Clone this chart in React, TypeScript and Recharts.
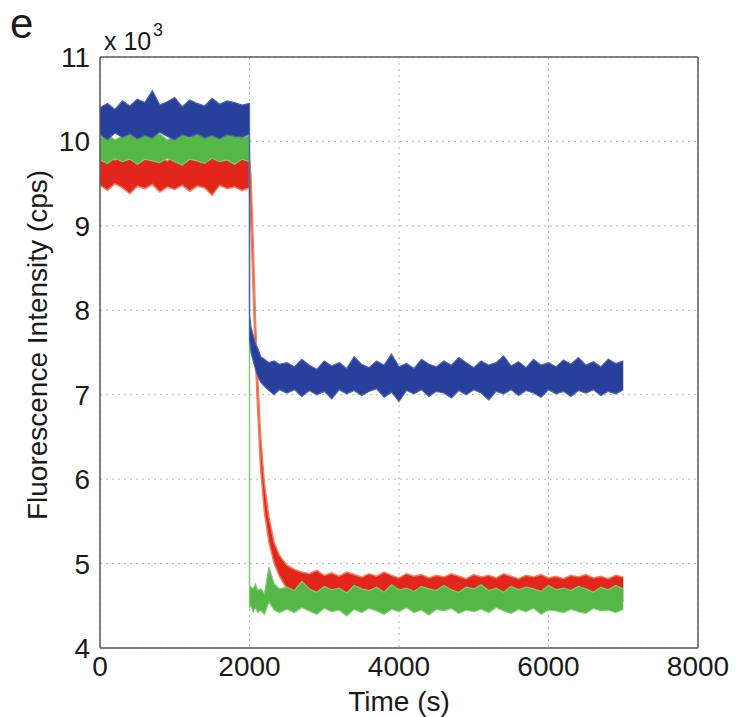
import { ComposedChart, Area, XAxis, YAxis, CartesianGrid, ReferenceLine, Label } from 'recharts';

// time grid (s): baseline, the step at 2000 s (listed twice), decay, plateau
const timeS = [
  0, 100, 200, 300, 400, 500, 600, 700, 800, 900,
  1000, 1100, 1200, 1300, 1400, 1500, 1600, 1700, 1800, 1900,
  2000,
  2000, 2020, 2050, 2080, 2110, 2150, 2200, 2260, 2330, 2400,
  2500, 2600, 2700, 2800, 2900, 3000, 3100, 3200, 3300, 3400,
  3500, 3600, 3700, 3800, 3900, 4000, 4100, 4200, 4300, 4400,
  4500, 4600, 4700, 4800, 4900, 5000, 5100, 5200, 5300, 5400,
  5500, 5600, 5700, 5800, 5900, 6000, 6100, 6200, 6300, 6400,
  6500, 6600, 6700, 6800, 6900, 7000,
];

// noise envelope of each trace, cps (upper / lower edge)
const blueHigh = [
  10400, 10450, 10380, 10480, 10420, 10500, 10460, 10600, 10430, 10470,
  10520, 10410, 10490, 10450, 10420, 10510, 10440, 10480, 10460, 10430,
  10450,
  7950, 7800, 7700, 7600, 7550, 7450, 7420, 7380, 7400, 7360,
  7380, 7330, 7420, 7350, 7300, 7400, 7340, 7380, 7310, 7450,
  7360, 7320, 7400, 7350, 7480, 7330, 7370, 7310, 7420, 7360,
  7330, 7400, 7350, 7440, 7380, 7320, 7400, 7350, 7380, 7460,
  7340, 7390, 7320, 7420, 7350, 7380, 7330, 7410, 7360, 7440,
  7350, 7390, 7330, 7420, 7370, 7400,
];
const blueLow = [
  10080, 10020, 10100, 10050, 10090, 10030, 10070, 10040, 10110, 10060,
  10020, 10080, 10050, 10090, 10040, 10070, 10030, 10080, 10060, 10050,
  10090,
  7650, 7500, 7400, 7300, 7220, 7150, 7100, 7050, 7000, 7060,
  7020, 7060, 6980, 7050, 7000, 7040, 6950, 7060, 7010, 7050,
  6990, 7040, 7070, 6970, 7030, 6920, 7050, 7010, 7060, 6980,
  7040, 7020, 6960, 7050, 7000, 7060, 7020, 6940, 7040, 7010,
  7060, 6990, 7050, 7020, 6970, 7060, 7010, 7040, 6980, 7050,
  7020, 7060, 6990, 7040, 7010, 7060,
];

const greenHigh = [
  10040, 10080, 10020, 10060, 10100, 10030, 10070, 10050, 10090, 10020,
  10060, 10080, 10040, 10110, 10050, 10070, 10030, 10080, 10060, 10050,
  10070,
  4750, 4720, 4700, 4760, 4680, 4700, 4640, 4960, 4760, 4700,
  4720, 4680, 4790, 4700, 4660, 4730, 4690, 4710, 4650, 4740,
  4700, 4680, 4720, 4660, 4750, 4690, 4710, 4670, 4730, 4700,
  4680, 4740, 4690, 4660, 4720, 4700, 4750, 4680, 4710, 4660,
  4730, 4690, 4720, 4700, 4670, 4740, 4690, 4710, 4680, 4730,
  4700, 4660, 4720, 4690, 4740, 4700,
];
const greenLow = [
  9780, 9740, 9800, 9760, 9790, 9730, 9790, 9770, 9750, 9800,
  9760, 9720, 9790, 9770, 9740, 9800, 9760, 9780, 9730, 9790,
  9760,
  4480, 4500, 4430, 4480, 4420, 4450, 4400, 4550, 4450, 4420,
  4460, 4420, 4480, 4440, 4400, 4470, 4430, 4450, 4380, 4460,
  4420, 4470, 4440, 4400, 4460, 4430, 4480, 4420, 4450, 4390,
  4460, 4440, 4470, 4410, 4450, 4430, 4460, 4420, 4480, 4440,
  4410, 4460, 4430, 4470, 4400, 4450, 4440, 4420, 4460, 4430,
  4410, 4470, 4440, 4450, 4420, 4460,
];

const redHigh = [
  9800, 9840, 9780, 9860, 9810, 9830, 9790, 9850, 9820, 9770,
  9840, 9800, 9860, 9780, 9830, 9810, 9850, 9790, 9820, 9840,
  9870,
  9800, 9600, 8800, 7900, 7200, 6500, 5950, 5550, 5250, 5100,
  4980, 4930, 4900, 4880, 4920, 4860, 4890, 4850, 4900, 4870,
  4840, 4880, 4850, 4900, 4860, 4830, 4880, 4850, 4870, 4830,
  4860, 4840, 4880, 4850, 4820, 4870, 4840, 4860, 4830, 4880,
  4850, 4820, 4860, 4840, 4870, 4830, 4850, 4820, 4860, 4840,
  4870, 4830, 4850, 4820, 4860, 4840,
];
const redLow = [
  9480, 9420, 9500, 9450, 9380, 9470, 9440, 9490, 9400, 9460,
  9430, 9480, 9410, 9470, 9450, 9360, 9480, 9440, 9460, 9420,
  9450,
  9400, 9000, 8200, 7400, 6800, 6100, 5600, 5250, 5000, 4850,
  4700, 4650, 4620, 4600, 4610, 4580, 4600, 4570, 4590, 4560,
  4580, 4600, 4570, 4550, 4590, 4570, 4560, 4580, 4550, 4570,
  4590, 4560, 4570, 4550, 4580, 4560, 4570, 4550, 4580, 4560,
  4540, 4570, 4560, 4580, 4550, 4570, 4560, 4540, 4570, 4560,
  4580, 4550, 4560, 4570, 4550, 4560,
];

const xTicks = [0, 2000, 4000, 6000, 8000];
const yTicks = [4000, 5000, 6000, 7000, 8000, 9000, 10000, 11000];

const data = timeS.map((t, i) => ({
  t,
  blue: [blueLow[i], blueHigh[i]],
  green: [greenLow[i], greenHigh[i]],
  red: [redLow[i], redHigh[i]],
}));

const font = '"Liberation Sans", Arial, Helvetica, sans-serif';
const tickStyle = { fontSize: 28, fontFamily: font, fill: '#1a1a1a' };
const boxColor = '#5a5a5a';
const innerTick = { stroke: boxColor, strokeWidth: 1.2 };
const noLabel = () => <g />;

export default function App() {
  return (
    <div style={{ position: 'absolute', left: 0, top: 0, width: 746, height: 717, background: '#fff', fontFamily: font, color: '#1a1a1a' }}>
      <ComposedChart width={746} height={717} data={data} margin={{ top: 57, right: 48, left: 0, bottom: 0 }}>
        <CartesianGrid stroke="#b8b8b8" strokeDasharray="2 4" />
        {/* inward tick marks on all four sides (matlab style) */}
        <XAxis xAxisId="bIn" dataKey="t" type="number" domain={[0, 8000]} ticks={xTicks} height={0} mirror tick={noLabel} tickSize={6} tickLine={innerTick} axisLine={false} />
        <XAxis xAxisId="tIn" orientation="top" dataKey="t" type="number" domain={[0, 8000]} ticks={xTicks} height={0} mirror tick={noLabel} tickSize={6} tickLine={innerTick} axisLine={false} />
        <YAxis yAxisId="lIn" type="number" domain={[4000, 11000]} ticks={yTicks} width={0} mirror tick={noLabel} tickSize={6} tickLine={innerTick} axisLine={false} />
        <YAxis yAxisId="rIn" orientation="right" type="number" domain={[4000, 11000]} ticks={yTicks} width={0} mirror tick={noLabel} tickSize={6} tickLine={innerTick} axisLine={false} />
        <XAxis
          dataKey="t"
          type="number"
          domain={[0, 8000]}
          ticks={xTicks}
          height={69}
          tickLine={false}
          tickSize={0}
          tickMargin={8}
          tick={tickStyle}
          stroke={boxColor}
          strokeWidth={1.5}
        >
          <Label value="Time (s)" position="insideBottom" offset={6} style={{ fontSize: 28, fontFamily: font, fill: '#1a1a1a' }} />
        </XAxis>
        <YAxis
          type="number"
          domain={[4000, 11000]}
          ticks={yTicks}
          width={100}
          tickLine={false}
          tickSize={0}
          tickMargin={10}
          tick={tickStyle}
          tickFormatter={(v: number) => String(v / 1000)}
          stroke={boxColor}
          strokeWidth={1.5}
          allowDataOverflow
        />
        <ReferenceLine y={11000} stroke={boxColor} strokeWidth={1.5} />
        <ReferenceLine x={8000} stroke={boxColor} strokeWidth={1.5} />
        <Area type="linear" dataKey="red" fill="#e3261c" fillOpacity={1} stroke="#f0805e" strokeWidth={1.5} dot={false} activeDot={false} isAnimationActive={false} />
        <Area type="linear" dataKey="green" fill="#55b746" fillOpacity={1} stroke="#7fca70" strokeWidth={1.2} dot={false} activeDot={false} isAnimationActive={false} />
        <Area type="linear" dataKey="blue" fill="#27409c" fillOpacity={1} stroke="#4a60ad" strokeWidth={1.2} dot={false} activeDot={false} isAnimationActive={false} />
      </ComposedChart>

      <div style={{ position: 'absolute', left: 10, top: 3, fontSize: 42, lineHeight: '42px' }}>e</div>
      <div style={{ position: 'absolute', left: 104, top: 29, fontSize: 25, lineHeight: '25px', whiteSpace: 'nowrap' }}>x 10</div>
      <div style={{ position: 'absolute', left: 153, top: 21, fontSize: 18, lineHeight: '18px' }}>3</div>
      <div
        style={{
          position: 'absolute',
          left: 38 - 250,
          top: 345 - 16,
          width: 500,
          height: 32,
          lineHeight: '32px',
          fontSize: 28,
          textAlign: 'center',
          transform: 'rotate(-90deg)',
          whiteSpace: 'nowrap',
        }}
      >
        Fluorescence Intensity (cps)
      </div>
    </div>
  );
}
